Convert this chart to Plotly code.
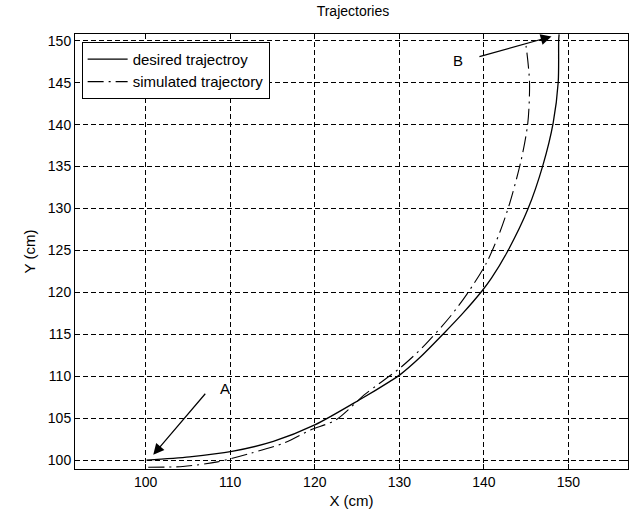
import plotly.graph_objects as go

# Desired path (solid) in cm
desired_x = [100.1, 105.2, 110.2, 115.1, 120.0, 125.3, 128.9, 130.1, 132.4, 135.2,
             137.5, 139.8, 140.9, 142.7, 145.2, 147.0, 148.2, 148.8, 148.85, 148.9]
desired_y = [100.0, 100.4, 101.05, 102.24, 104.2, 107.2, 109.4, 110.2, 112.2, 115.05,
             117.5, 120.2, 121.7, 124.7, 129.9, 135.2, 140.2, 145.1, 150.0, 150.75]

# Simulated path (dash-dot) in cm
simulated_x = [100.3, 104.4, 108.5, 112.5, 116.5, 119.5, 122.5, 126.0, 130.1, 132.8,
               136.0, 138.0, 140.3, 141.9, 143.05, 144.4, 145.2, 145.4, 145.0, 144.9]
simulated_y = [99.15, 99.25, 99.8, 100.85, 102.1, 103.6, 104.8, 107.9, 111.0, 113.5,
               117.1, 119.8, 123.5, 127.2, 130.6, 135.7, 140.2, 145.1, 149.3, 149.8]

x_ticks = [100, 110, 120, 130, 140, 150]
y_ticks = [100, 105, 110, 115, 120, 125, 130, 135, 140, 145, 150]

FONT = "Liberation Sans, Arial, sans-serif"

fig = go.Figure()
fig.add_trace(go.Scatter(
    x=desired_x, y=desired_y, mode="lines", name="desired trajectroy",
    line=dict(color="black", width=1.3, shape="spline", smoothing=0.8),
))
fig.add_trace(go.Scatter(
    x=simulated_x, y=simulated_y, mode="lines", name="simulated trajectory",
    line=dict(color="black", width=1.1, dash="16px,5px,2px,5px",
              shape="spline", smoothing=0.8),
))

# Start / end markers
fig.add_annotation(x=100.9, y=100.65, ax=107.2, ay=108.1, xref="x", yref="y",
                   axref="x", ayref="y", text="", showarrow=True,
                   arrowhead=2, arrowsize=1.8, arrowwidth=1.2, arrowcolor="black")
fig.add_annotation(x=109.4, y=108.6, text="A", showarrow=False,
                   font=dict(family=FONT, size=15, color="black"))
fig.add_annotation(x=148.0, y=150.5, ax=139.3, ay=148.05, xref="x", yref="y",
                   axref="x", ayref="y", text="", showarrow=True,
                   arrowhead=2, arrowsize=1.8, arrowwidth=1.2, arrowcolor="black")
fig.add_annotation(x=136.9, y=147.6, text="B", showarrow=False,
                   font=dict(family=FONT, size=15, color="black"))

axis_common = dict(
    showline=True, linecolor="black", linewidth=1, mirror="ticks",
    ticks="inside", ticklen=5, tickcolor="black",
    showgrid=True, gridcolor="black", gridwidth=1, griddash="5px,3px",
    zeroline=False, tickfont=dict(family=FONT, size=14, color="black"),
)

fig.update_xaxes(range=[91.64, 157.05], tickvals=x_ticks,
                 title=dict(text="X (cm)", font=dict(family=FONT, size=15, color="black"),
                            standoff=6),
                 **axis_common)
fig.update_yaxes(range=[98.95, 150.8], tickvals=y_ticks,
                 title=dict(text="Y (cm)", font=dict(family=FONT, size=15, color="black"),
                            standoff=8),
                 **axis_common)

fig.update_layout(
    width=636, height=519,
    margin=dict(l=75, r=8, t=34, b=50),
    paper_bgcolor="white", plot_bgcolor="white",
    title=dict(text="Trajectories", x=0.555, xanchor="center", y=0.978, yanchor="middle",
               font=dict(family=FONT, size=14, color="black")),
    legend=dict(x=0.012, y=0.982, xanchor="left", yanchor="top",
                bgcolor="white", bordercolor="black", borderwidth=1,
                font=dict(family=FONT, size=15, color="black"),
                itemwidth=40, tracegroupgap=0),
    showlegend=True,
)

fig.write_html("out.html")
